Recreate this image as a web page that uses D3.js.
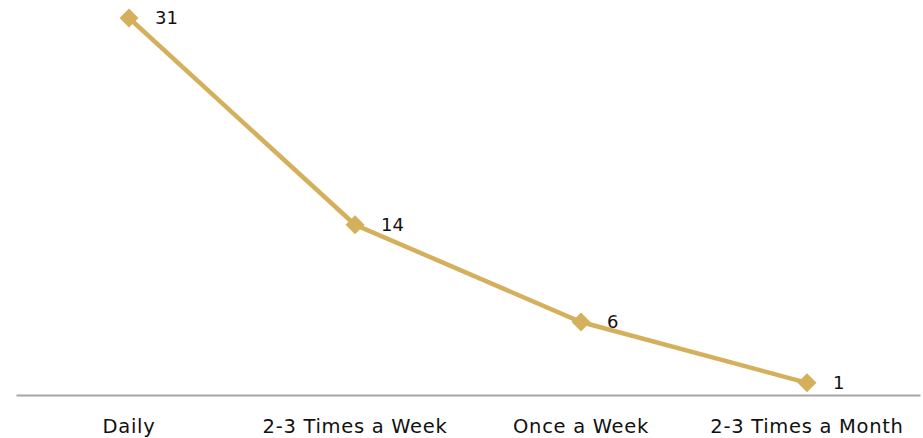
<!DOCTYPE html>
<html>
<head>
<meta charset="utf-8">
<script src="https://cdn.jsdelivr.net/npm/d3@7"></script>
<style>
  html, body { margin: 0; padding: 0; background: #fff; }
  svg { display: block; }
  text { font-family: "DejaVu Sans", sans-serif; fill: #111; }
</style>
</head>
<body>
<svg id="chart" width="923" height="438"></svg>
<script>
const categories = ["Daily", "2-3 Times a Week", "Once a Week", "2-3 Times a Month"];
const values = [31, 14, 6, 1];

const W = 923, H = 438;
const margin = { left: 16, right: 3, top: 18, bottom: 43 };
const svg = d3.select("#chart");

const x = d3.scaleBand()
  .domain(categories)
  .range([margin.left, W - margin.right])
  .padding(0);

const y = d3.scaleLinear()
  .domain([0, 31])
  .range([H - margin.bottom, margin.top]);

const lineColor = "#D5B05C";

// Category axis
const axis = svg.append("g")
  .attr("transform", `translate(0,${H - margin.bottom})`)
  .call(d3.axisBottom(x).tickSize(0).tickPadding(24));
axis.select(".domain").attr("stroke", "#a6a6a6").attr("stroke-width", 2);
axis.selectAll("text")
  .style("font-family", '"DejaVu Sans", sans-serif')
  .style("font-size", "19.5px")
  .style("letter-spacing", "0.7px")
  .attr("fill", "#111");

const cx = d => x(d) + x.bandwidth() / 2;
const pts = categories.map((c, i) => ({ c, v: values[i] }));

// Series line
svg.append("path")
  .datum(pts)
  .attr("fill", "none")
  .attr("stroke", lineColor)
  .attr("stroke-width", 4.5)
  .attr("d", d3.line().x(d => cx(d.c)).y(d => y(d.v)));

// Diamond markers
svg.selectAll("path.marker")
  .data(pts)
  .join("path")
  .attr("class", "marker")
  .attr("d", d3.symbol(d3.symbolSquare, 180)())
  .attr("transform", d => `translate(${cx(d.c)},${y(d.v)}) rotate(45)`)
  .attr("fill", lineColor);

// Value labels
svg.selectAll("text.val")
  .data(pts)
  .join("text")
  .attr("class", "val")
  .attr("x", d => cx(d.c) + 26)
  .attr("y", d => y(d.v))
  .attr("dy", "0.34em")
  .style("font-size", "18px")
  .text(d => d.v);
</script>
</body>
</html>
